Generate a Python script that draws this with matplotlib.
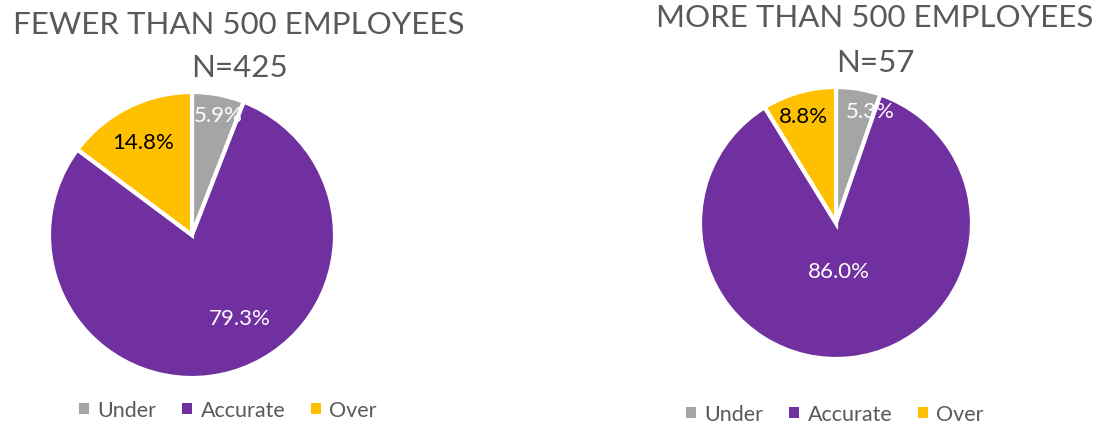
import matplotlib.pyplot as plt

plt.rcParams['font.family'] = ['Lato', 'DejaVu Sans']

# Data
categories = ['Under', 'Accurate', 'Over']
small_values = [5.9, 79.3, 14.8]
large_values = [5.3, 86.0, 8.8]

colors = ['#A5A5A5', '#7030A0', '#FFC000']
label_colors = ['white', 'white', 'black']

W, H = 1109, 427
fig = plt.figure(figsize=(W / 100, H / 100), dpi=100)


def px_axes(cx, cy, r):
    return fig.add_axes([(cx - r) / W, (H - cy - r) / H, 2 * r / W, 2 * r / H])


def draw_pie(ax, values, label_pos):
    wedges, _, autotexts = ax.pie(values, colors=colors, startangle=90, counterclock=False,
                                  autopct='%.1f%%',
                                  wedgeprops=dict(edgecolor='white', linewidth=3))
    for t, v, c, p in zip(autotexts, values, label_colors, label_pos):
        t.set_text(f'{v:.1f}%')
        t.set_color(c)
        t.set_fontsize(16)
        t.set_position(p)
    ax.set_xlim(-1, 1)
    ax.set_ylim(-1, 1)
    return wedges


ax1 = px_axes(192, 236, 143)
w1 = draw_pie(ax1, small_values, [(0.18, 0.84), (0.33, -0.58), (-0.34, 0.65)])
ax2 = px_axes(836, 224, 136)
w2 = draw_pie(ax2, large_values, [(0.25, 0.82), (0.02, -0.35), (-0.24, 0.79)])

title_kw = dict(ha='center', va='center', fontsize=22.5, color='#595959')
fig.text(239 / W, 1 - 25 / H, 'FEWER THAN 500 EMPLOYEES', **title_kw)
fig.text(239 / W, 1 - 68 / H, 'N=425', **title_kw)
fig.text(875 / W, 1 - 18 / H, 'MORE THAN 500 EMPLOYEES', **title_kw)
fig.text(875 / W, 1 - 63 / H, 'N=57', **title_kw)

for wedges, x, y in [(w1, 228, 411), (w2, 835, 415)]:
    leg = fig.legend(wedges, categories, loc='center', bbox_to_anchor=(x / W, 1 - y / H), ncol=3,
                     frameon=False, fontsize=15.5, handlelength=0.45, handleheight=0.45,
                     handletextpad=0.4, columnspacing=1.2, labelcolor='#595959')
    for h in leg.legend_handles:
        h.set_edgecolor('none')

fig.savefig('out.png', dpi=100)
